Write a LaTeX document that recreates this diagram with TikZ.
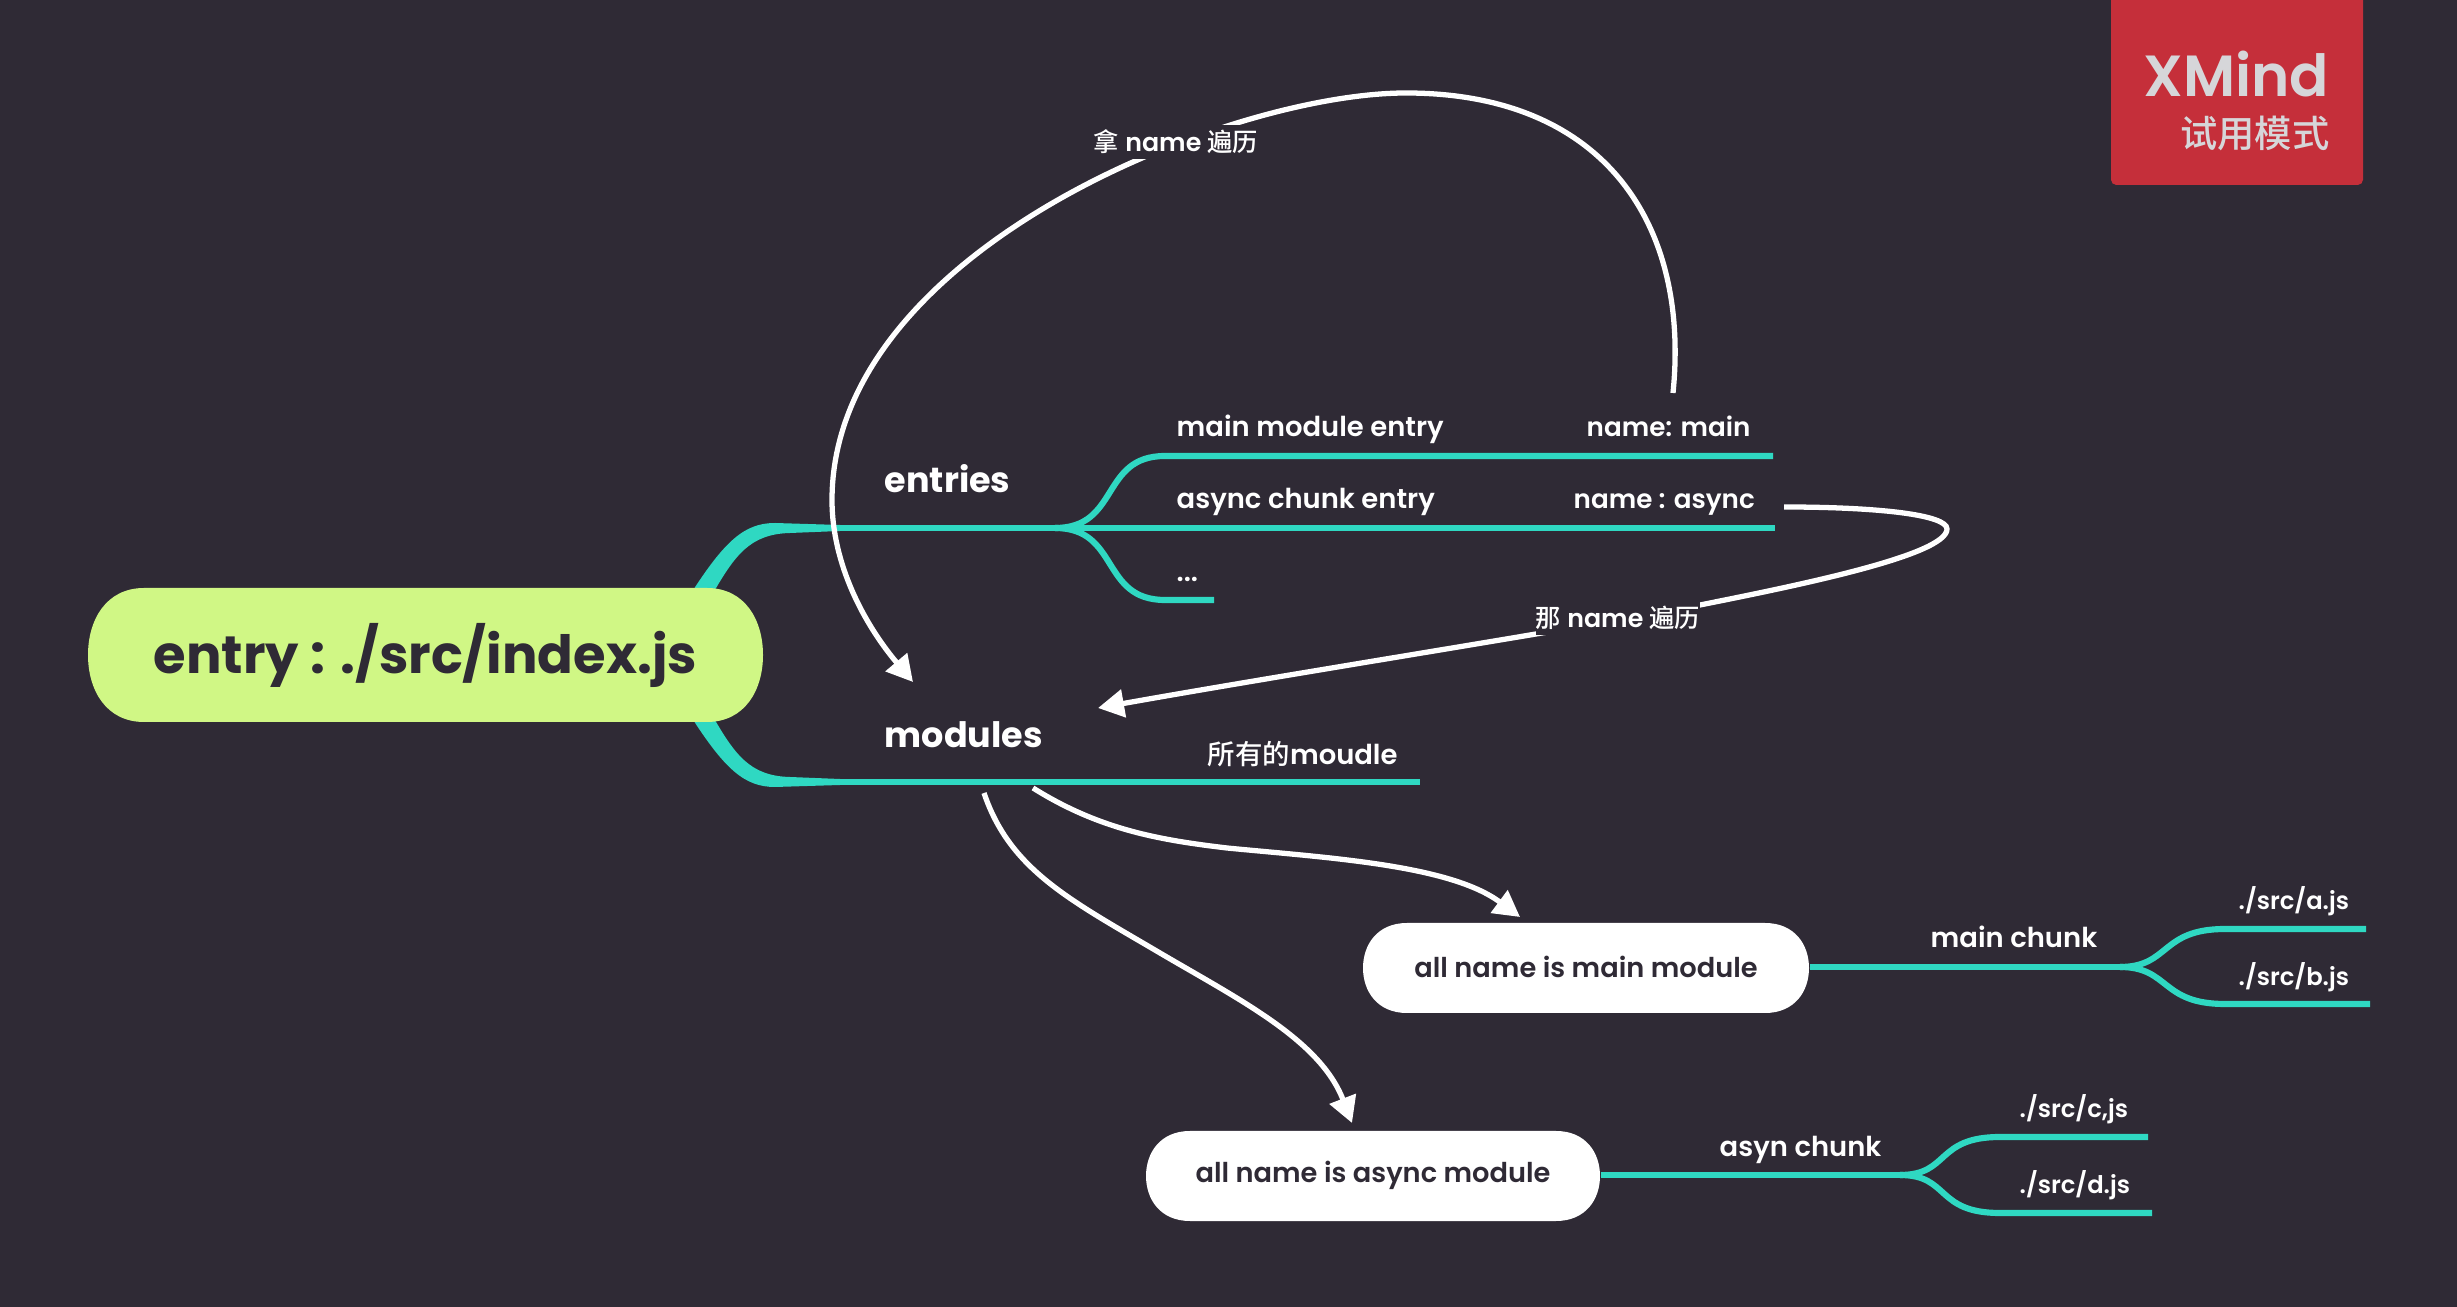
\documentclass[tikz,border=0pt]{standalone}
\usepackage{fontspec}
\setmainfont{Poppins}
\newfontfamily\semifont{Poppins SemiBold}
\newfontfamily\boldfont{Poppins}[BoldFont={Poppins Bold}]
\newfontfamily\cjk{Noto Sans CJK SC Medium}
\usetikzlibrary{arrows.meta,calc,positioning}
\definecolor{bgdark}{HTML}{2F2A35}
\definecolor{branchteal}{HTML}{2FD8C2}
\definecolor{rootgreen}{HTML}{D0F785}
\definecolor{trialred}{HTML}{C52F3A}
\definecolor{trialtext}{HTML}{D6D6D9}

\begin{document}
\begin{tikzpicture}[
  x=0.01cm,
  y=-0.01cm,
  >={Triangle[length=7.4pt,width=7.8pt]},
  every node/.style={inner sep=0pt, text=white},
  leaf/.style={anchor=base west, font=\semifont\fontsize{7.8}{9}\selectfont},
  leaf name/.style={leaf, font=\semifont\fontsize{7.45}{9}\selectfont},
  leaf src/.style={leaf, font=\semifont\fontsize{6.9}{9}\selectfont},
  topic/.style={anchor=base west, font=\boldfont\bfseries\fontsize{9.95}{12}\selectfont},
  linklabel/.style={fill=bgdark, inner ysep=1.5pt, font=\semifont\fontsize{7.2}{9}\selectfont},
  pillbox/.style={text=bgdark, font=\semifont\fontsize{7.75}{10}\selectfont},
  pillfill/.style={fill=white},
  branch/.style={draw=branchteal, line width=1.75pt},
  taper/.style={fill=branchteal},
  relation/.style={->, draw=white, line width=1.5pt},
]
\fill[bgdark] (0,0) rectangle (2457,1307);
\useasboundingbox (0,0) rectangle (2457,1307);

% tapered stems out of the root
\fill[taper] (690,595) .. controls (725,540) and (745,523) .. (775,523) -- (840,525) -- (840,531) -- (790,533) .. controls (750,534) and (735,555) .. (712,595) -- cycle;
\fill[taper] (690,715) .. controls (725,770) and (745,787) .. (775,787) -- (840,785) -- (840,779) -- (790,777) .. controls (750,776) and (735,755) .. (712,715) -- cycle;

% pill outlines
\fill[rootgreen] (144,588) -- (707,588) .. controls (745,588) and (763,620) .. (763,655) .. controls (763,690) and (745,722) .. (707,722) -- (144,722) .. controls (106,722) and (88,690) .. (88,655) .. controls (88,620) and (106,588) .. (144,588) -- cycle;
\fill[pillfill] (1407,923) -- (1765,923) .. controls (1795,923) and (1809,945) .. (1809,968) .. controls (1809,991) and (1795,1013) .. (1765,1013) -- (1407,1013) .. controls (1377,1013) and (1363,991) .. (1363,968) .. controls (1363,945) and (1377,923) .. (1407,923) -- cycle;
\fill[pillfill] (1190,1131) -- (1556,1131) .. controls (1586,1131) and (1600,1153) .. (1600,1176) .. controls (1600,1199) and (1586,1221) .. (1556,1221) -- (1190,1221) .. controls (1160,1221) and (1146,1199) .. (1146,1176) .. controls (1146,1153) and (1160,1131) .. (1190,1131) -- cycle;

\node[text=bgdark, font=\boldfont\bfseries\fontsize{15}{18}\selectfont, minimum width=675*0.2845pt, minimum height=134*0.2845pt] (root) at (425.5,655) {entry : ./src/index.js};
\node[pillbox, minimum width=446*0.2845pt, minimum height=90*0.2845pt] (mainPill) at (1586,967) {all name is main module};
\node[pillbox, minimum width=454*0.2845pt, minimum height=90*0.2845pt] (asyncPill) at (1373,1175) {all name is async module};

% labels
\node[topic] (entries) at (884,493) {entries};
\node[topic] (modules) at (884,748) {modules};
\node[leaf] (mainEntry) at (1176,437) {main module entry};
\node[leaf name] (nameMain) at (1586,437) {name: main};
\node[leaf] (asyncEntry) at (1176,509) {async chunk entry};
\node[leaf name] (nameAsync) at (1573,509) {name : async};
\node[leaf] (dots) at (1176,582) {...};
\node[leaf] (allModules) at (1207,765) {{\cjk 所有的}moudle};
\node[leaf] (mainChunk) at (1930,948) {main chunk};
\node[leaf src] (srcA) at (2238,910) {./src/a.js};
\node[leaf src] (srcB) at (2238,986) {./src/b.js};
\node[leaf] (asynChunk) at (1719,1156) {asyn chunk};
\node[leaf src] (srcC) at (2019,1118) {./src/c,js};
\node[leaf src] (srcD) at (2019,1194) {./src/d.js};

% branch ends
\coordinate (entriesFork) at (1055,528);
\coordinate (entriesStem) at (835,528);
\coordinate (mainEnd) at (1773,456);
\coordinate (asyncEnd) at (1775,528);
\coordinate (dotsEnd) at (1214,600);
\coordinate (modulesStem) at (835,782);
\coordinate (modulesEnd) at (1420,782);
\coordinate (mainFork) at (2120,967);
\coordinate (aEnd) at (2366,929);
\coordinate (bEnd) at (2370,1004);
\coordinate (asyncFork) at (1900,1175);
\coordinate (cEnd) at (2148,1137);
\coordinate (dEnd) at (2152,1213);

\draw[branch] (entriesStem) -- (asyncEnd);
\draw[branch] (entriesFork) .. controls (1120,528) and (1100,456) .. (1165,456) -- (mainEnd);
\draw[branch] (entriesFork) .. controls (1120,528) and (1100,600) .. (1165,600) -- (dotsEnd);
\draw[branch] (modulesStem) -- (modulesEnd);
\draw[branch] (mainPill.east) -- (mainFork);
\draw[branch] (mainFork) .. controls (2170,967) and (2160,929) .. (2225,929) -- (aEnd);
\draw[branch] (mainFork) .. controls (2170,967) and (2160,1004) .. (2225,1004) -- (bEnd);
\draw[branch] (asyncPill.east) -- (asyncFork);
\draw[branch] (asyncFork) .. controls (1950,1175) and (1935,1137) .. (2000,1137) -- (cEnd);
\draw[branch] (asyncFork) .. controls (1950,1175) and (1935,1213) .. (2000,1213) -- (dEnd);

% relations between topics
\coordinate (mainOut) at (1673,393);
\coordinate (modulesIn) at (913,682);
\coordinate (asyncOut) at (1784,507);
\coordinate (modulesSide) at (1098,708);
\coordinate (modulesDown) at (1033,788);
\coordinate (mainPillIn) at (1520,917);
\coordinate (modulesDownB) at (984,793);
\coordinate (asyncPillIn) at (1352,1123);
\draw[relation] (mainOut) .. controls (1690,225) and (1605,93) .. (1406,93) .. controls (1230,93) and (832,250) .. (832,500) .. controls (832,565) and (865,625) .. (modulesIn);
\draw[relation] (asyncOut) .. controls (1880,507) and (1947,515) .. (1947,529) .. controls (1947,555) and (1800,585) .. (1700,605) .. controls (1600,625) and (1300,672) .. (modulesSide);
\draw[relation] (modulesDown) .. controls (1100,830) and (1160,840) .. (1227,848) .. controls (1330,858) and (1450,865) .. (mainPillIn);
\draw[relation] (modulesDownB) .. controls (1010,870) and (1070,900) .. (1160,953) .. controls (1240,1000) and (1320,1040) .. (asyncPillIn);
\node[linklabel] (takeName) at (1176,142) {{\cjk 拿} name {\cjk 遍历}};
\node[linklabel] (thatName) at (1618,618) {{\cjk 那} name {\cjk 遍历}};

% trial badge
\fill[trialred, rounded corners=1.5pt] (2111,-10) rectangle (2363,185);
\node[anchor=base east, text=trialtext, font=\semifont\fontsize{16.5}{18}\selectfont] (xmindMark) at (2330,97) {XMind};
\node[anchor=base east, text=trialtext, font=\cjk\fontsize{10.6}{12}\selectfont] (trialMode) at (2330,148) {试用模式};
\end{tikzpicture}
\end{document}
